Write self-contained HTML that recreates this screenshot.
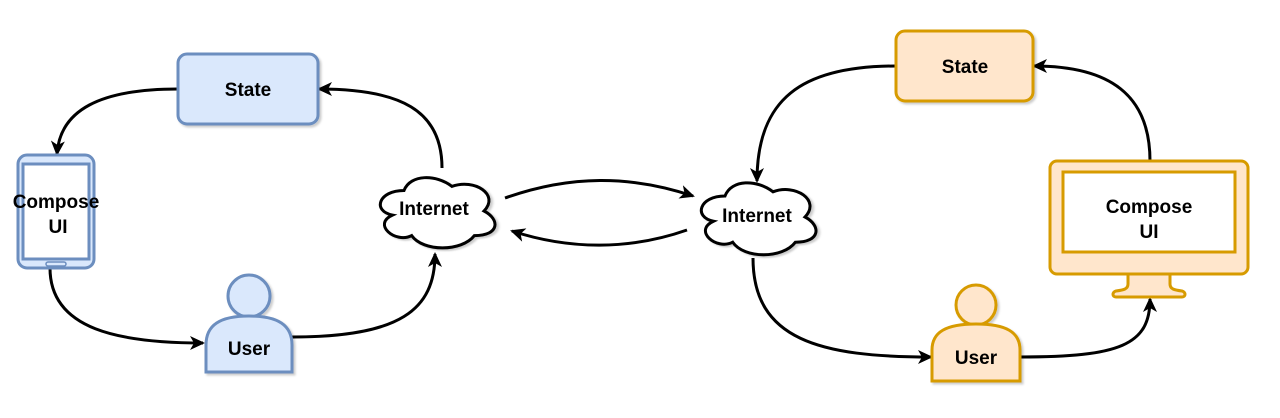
<!DOCTYPE html>
<html><head><meta charset="utf-8"><style>
html,body{margin:0;padding:0;background:#fff;width:1280px;height:418px;overflow:hidden}
text{font-family:"Liberation Sans",Arial,sans-serif;font-weight:bold;font-size:19px;fill:#000}
</style></head><body>
<svg width="1280" height="418" viewBox="0 0 1280 418" xmlns="http://www.w3.org/2000/svg">
<defs>
<marker id="a" markerWidth="15" markerHeight="14" refX="13" refY="7" orient="auto" markerUnits="userSpaceOnUse" viewBox="0 0 15 14">
<path d="M0,0 L15,7 L0,14 L4,7 Z" fill="#000"/></marker>
<filter id="sh"><feDropShadow dx="2" dy="2" stdDeviation="1" flood-color="#000" flood-opacity="0.2"/></filter>
</defs>
<g fill="none" stroke="#000" stroke-width="3">
<path d="M178,89 C100,89 60,110 57,154" marker-end="url(#a)"/>
<path d="M50,268 C50,330 120,343 203,343" marker-end="url(#a)"/>
<path d="M292,337 C400,337 435,310 435,254" marker-end="url(#a)"/>
<path d="M442,168 C442,110 400,89 319,89" marker-end="url(#a)"/>
<path d="M505,198 C570,175 630,175 693,196" marker-end="url(#a)"/>
<path d="M687,230 C630,250 570,250 512,231" marker-end="url(#a)"/>
<path d="M896,66 C800,66 757,100 757,181" marker-end="url(#a)"/>
<path d="M753,258 C753,340 820,357 931,357" marker-end="url(#a)"/>
<path d="M1020,357 C1120,357 1150,345 1150,299" marker-end="url(#a)"/>
<path d="M1150,161 C1150,95 1110,66 1034,66" marker-end="url(#a)"/>
</g>
<rect x="178" y="54" width="140" height="70" rx="9" fill="#dae8fc" stroke="#6c8ebf" stroke-width="3" filter="url(#sh)"/>
<text x="248" y="96" text-anchor="middle">State</text>
<rect x="18" y="155" width="76" height="113" rx="9" fill="#dae8fc" stroke="#6c8ebf" stroke-width="3"/>
<rect x="23" y="164" width="66" height="95" fill="#fff" stroke="#6c8ebf" stroke-width="3"/>
<rect x="46" y="262" width="20" height="4" rx="2" fill="#dae8fc" stroke="#6c8ebf" stroke-width="1.5"/>
<text x="56" y="208" text-anchor="middle">Compose</text>
<text x="58" y="233" text-anchor="middle">UI</text>
<g filter="url(#sh)" fill="#dae8fc" stroke="#6c8ebf" stroke-width="3">
<circle cx="249" cy="296" r="21"/>
<path d="M206,372 L206,345 C206,325 220,316 249,316 C278,316 292,325 292,345 L292,372 Z"/>
</g>
<text x="249" y="355" text-anchor="middle">User</text>
<g transform="translate(372,170) scale(1.28,0.82)" filter="url(#sh)"><path d="M25,25 C5,25 0,50 16,55 C0,66 18,90 31,80 C40,100 70,100 80,80 C100,80 100,60 87.5,50 C100,30 80,10 62.5,20 C50,5 30,5 25,25 Z" fill="#fff" stroke="#000" stroke-width="3" vector-effect="non-scaling-stroke"/></g>
<text x="434" y="215" text-anchor="middle">Internet</text>
<g transform="translate(693,175) scale(1.28,0.84)" filter="url(#sh)"><path d="M25,25 C5,25 0,50 16,55 C0,66 18,90 31,80 C40,100 70,100 80,80 C100,80 100,60 87.5,50 C100,30 80,10 62.5,20 C50,5 30,5 25,25 Z" fill="#fff" stroke="#000" stroke-width="3" vector-effect="non-scaling-stroke"/></g>
<text x="757" y="222" text-anchor="middle">Internet</text>
<rect x="896" y="31" width="137" height="70" rx="9" fill="#ffe6cc" stroke="#d79b00" stroke-width="3" filter="url(#sh)"/>
<text x="965" y="73" text-anchor="middle">State</text>
<path d="M1128,273 L1128,284 C1128,289 1124,290 1116,291 C1112,292 1112,297 1116,297 L1182,297 C1186,297 1186,292 1182,291 C1174,290 1170,289 1170,284 L1170,273 Z" fill="#ffe6cc" stroke="#d79b00" stroke-width="3"/>
<rect x="1050" y="161" width="198" height="113" rx="7" fill="#ffe6cc" stroke="#d79b00" stroke-width="3"/>
<rect x="1063" y="172" width="172" height="80" fill="#fff" stroke="#d79b00" stroke-width="3"/>
<text x="1149" y="213" text-anchor="middle">Compose</text>
<text x="1149" y="238" text-anchor="middle">UI</text>
<g filter="url(#sh)" fill="#ffe6cc" stroke="#d79b00" stroke-width="3">
<circle cx="976" cy="305" r="20"/>
<path d="M932,381 L932,350 C932,332 946,324 976,324 C1006,324 1020,332 1020,350 L1020,381 Z"/>
</g>
<text x="976" y="364" text-anchor="middle">User</text>
</svg>
</body></html>
